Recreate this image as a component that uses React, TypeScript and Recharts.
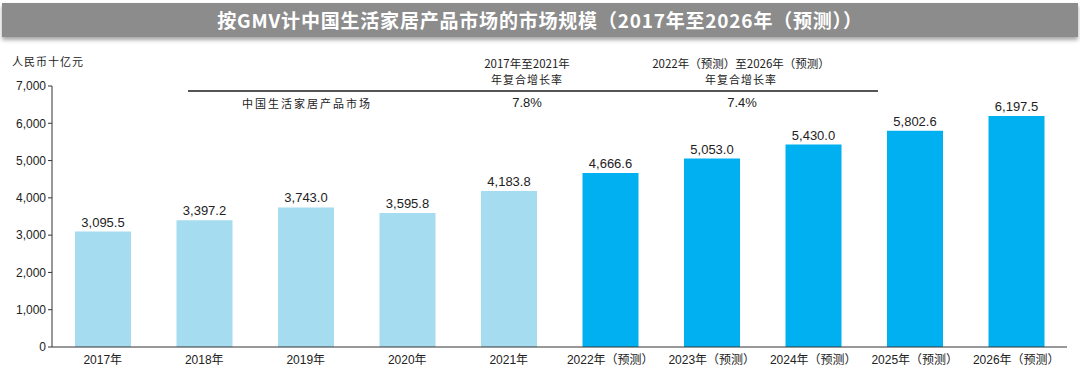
import { BarChart, Bar, XAxis, YAxis, Cell, LabelList } from 'recharts'

const years = ['2017年', '2018年', '2019年', '2020年', '2021年', '2022年（预测）', '2023年（预测）', '2024年（预测）', '2025年（预测）', '2026年（预测）']
const gmv = [3095.5, 3397.2, 3743.0, 3595.8, 4183.8, 4666.6, 5053.0, 5430.0, 5802.6, 6197.5]
const forecast = [false, false, false, false, false, true, true, true, true, true]
const yTicks = [0, 1000, 2000, 3000, 4000, 5000, 6000, 7000]

const cagrHeaders = ['2017年至2021年', '2022年（预测）至2026年（预测）']
const cagrValues = ['7.8%', '7.4%']
const rowName = '中国生活家居产品市场'

const data = years.map((year, i) => ({ year, value: gmv[i], forecast: forecast[i] }))

const font = '"Liberation Sans", Arial, "Noto Sans CJK SC", sans-serif'
const cjk = '"Noto Sans CJK SC", sans-serif'

export default function App() {
    return (
        <div style={{ position: 'absolute', left: 0, top: 0, width: 1080, height: 373, background: '#fff', fontFamily: font }}>
            {/* title bar */}
            <div
                style={{
                    position: 'absolute', left: 2, top: 3, width: 1076, height: 34,
                    background: '#8c8c8c', boxShadow: '0 3px 4px rgba(0,0,0,0.35)',
                    color: '#fff', fontFamily: cjk, fontWeight: 700, fontSize: 19, letterSpacing: 0.8,
                    lineHeight: '34px', textAlign: 'center',
                }}
            >
                按GMV计中国生活家居产品市场的市场规模（2017年至2026年（预测））
            </div>

            <div style={{ position: 'absolute', left: 12, top: 53, fontSize: 11, letterSpacing: 1, fontFamily: cjk, color: '#222' }}>人民币十亿元</div>

            {/* CAGR table */}
            {cagrHeaders.map((h, i) => (
                <div
                    key={h}
                    style={{
                        position: 'absolute', left: [527, 741][i] - 150, width: 300, top: 55,
                        textAlign: 'center', fontSize: 11, fontFamily: cjk, color: '#222', lineHeight: '16px',
                    }}
                >
                    <div style={{ fontSize: 11.5 }}>{h}</div>
                    <div style={{ letterSpacing: 1 }}>年复合增长率</div>
                </div>
            ))}
            <div style={{ position: 'absolute', left: 188, top: 90, width: 690, height: 2, background: '#555' }} />
            <div style={{ position: 'absolute', left: 207, width: 200, top: 95, textAlign: 'center', fontSize: 11, letterSpacing: 2, fontFamily: cjk, color: '#222' }}>
                {rowName}
            </div>
            {cagrValues.map((v, i) => (
                <div
                    key={v}
                    style={{ position: 'absolute', left: [527, 742][i] - 50, width: 100, top: 95, textAlign: 'center', fontSize: 13, color: '#222' }}
                >
                    {v}
                </div>
            ))}

            <div style={{ position: 'absolute', left: 0, top: 0 }}>
                <BarChart width={1080} height={373} data={data} margin={{ top: 86, right: 13, bottom: 6, left: 0 }}>
                    <YAxis
                        type="number"
                        domain={[0, 7000]}
                        ticks={yTicks}
                        width={52}
                        tickFormatter={(v: number) => v.toLocaleString('en-US')}
                        tick={{ fontSize: 12, fill: '#222', fontFamily: font }}
                        axisLine={{ stroke: '#333' }}
                        tickLine={{ stroke: '#333' }}
                        tickSize={4}
                    />
                    <XAxis
                        dataKey="year"
                        type="category"
                        height={20}
                        interval={0}
                        tick={{ fontSize: 12, fill: '#222', fontFamily: font }}
                        axisLine={{ stroke: '#333' }}
                        tickLine={false}
                    />
                    <Bar dataKey="value" barSize={56} isAnimationActive={false}>
                        {data.map((d, i) => (
                            <Cell key={`cell-${i}`} fill={d.forecast ? '#00b0f0' : '#a6dcf0'} />
                        ))}
                        <LabelList
                            dataKey="value"
                            position="top"
                            offset={5}
                            formatter={(v: any) => Number(v).toLocaleString('en-US', { minimumFractionDigits: 1, maximumFractionDigits: 1 })}
                            style={{ fontSize: 13, fill: '#222', fontFamily: font }}
                        />
                    </Bar>
                </BarChart>
            </div>
        </div>
    )
}
